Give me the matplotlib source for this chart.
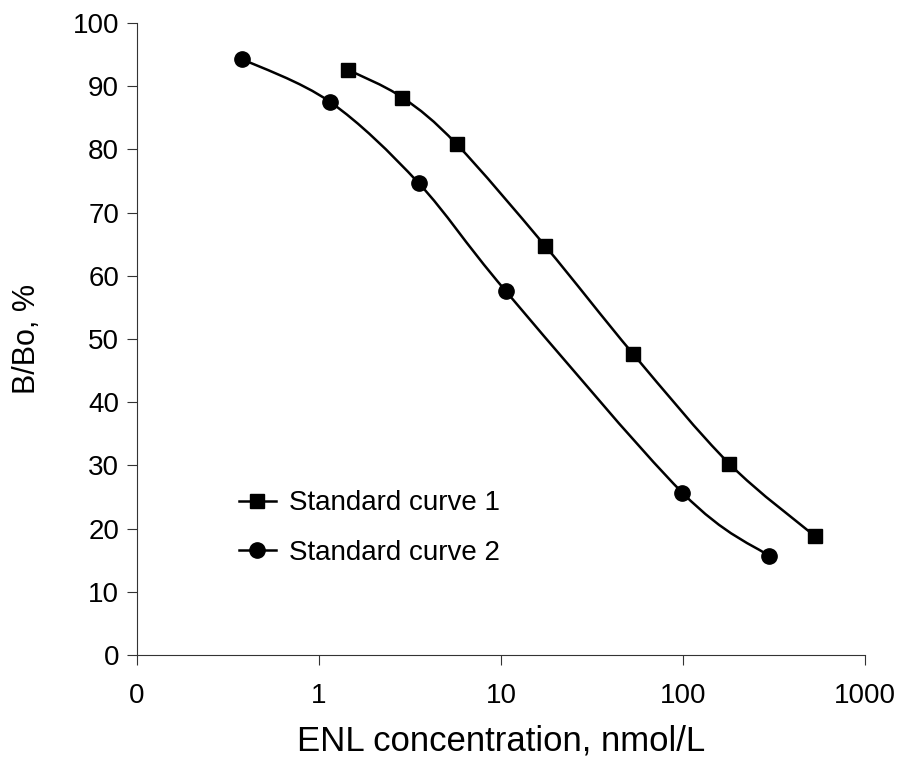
import matplotlib
matplotlib.use('Agg')
import matplotlib.pyplot as plt
import numpy as np
from matplotlib.path import Path
from matplotlib.patches import PathPatch
from matplotlib.lines import Line2D

plt.rcParams['font.family'] = ['Liberation Sans', 'DejaVu Sans']

# data
conc_1 = [1.44, 2.87, 5.71, 17.5, 53.3, 179, 531]
bbo_1 = [92.6, 88.2, 80.8, 64.7, 47.6, 30.3, 18.8]
conc_2 = [0.376, 1.15, 3.54, 10.6, 99, 296]
bbo_2 = [94.3, 87.5, 74.6, 57.6, 25.7, 15.7]

x_ticks = [0.1, 1, 10, 100, 1000]
x_ticklabels = ['0', '1', '10', '100', '1000']
y_ticks = list(range(0, 101, 10))


def smooth_path(x, y):
    # Excel-like smoothed line: cubic Bezier segments built in log-x space
    pts = np.column_stack([np.log10(x), y])
    n = len(pts)
    verts = [pts[0]]
    codes = [Path.MOVETO]
    for i in range(n - 1):
        prev = pts[i - 1] if i > 0 else pts[i]
        nxt = pts[i + 2] if i + 2 < n else pts[i + 1]
        c1 = pts[i] + (pts[i + 1] - prev) / 6
        c2 = pts[i + 1] - (nxt - pts[i]) / 6
        verts += [c1, c2, pts[i + 1]]
        codes += [Path.CURVE4] * 3
    verts = np.array(verts)
    verts[:, 0] = 10 ** verts[:, 0]
    return Path(verts, codes)


fig = plt.figure(figsize=(9.02, 7.57), dpi=100)
ax = fig.add_axes([0.152, 0.1347, 0.807, 0.835])
ax.set_xscale('log')

for x, y, m in [(conc_1, bbo_1, 's'), (conc_2, bbo_2, 'o')]:
    ax.add_patch(PathPatch(smooth_path(x, y), fill=False, edgecolor='black', lw=1.8))
    ax.plot(x, y, linestyle='none', marker=m, color='black', markersize=10.5 if m == 's' else 11)

ax.set_xlim(0.1, 1000)
ax.set_ylim(0, 100)
ax.set_xticks(x_ticks)
ax.set_xticklabels(x_ticklabels)
ax.xaxis.set_minor_locator(matplotlib.ticker.NullLocator())
ax.set_yticks(y_ticks)

for s in ['top', 'right']:
    ax.spines[s].set_visible(False)
for s in ['left', 'bottom']:
    ax.spines[s].set_linewidth(0.8)
    ax.spines[s].set_color('#333333')

ax.tick_params(axis='both', direction='out', length=7, width=0.8, colors='#333333',
               labelsize=20, labelcolor='black')
ax.tick_params(axis='x', pad=13)
ax.tick_params(axis='y', pad=6)

ax.set_xlabel('ENL concentration, nmol/L', fontsize=25, labelpad=11)
ax.set_ylabel('B/Bo, %', fontsize=22, labelpad=22)

handles = [Line2D([], [], color='black', lw=1.8, marker='s', markersize=10.5),
           Line2D([], [], color='black', lw=1.8, marker='o', markersize=11)]
ax.legend(handles, ['Standard curve 1', 'Standard curve 2'], loc='upper left',
          bbox_to_anchor=(0.105, 0.3), frameon=False, fontsize=20,
          handlelength=1.35, handletextpad=0.45, labelspacing=0.85)

plt.savefig('out.png', dpi=100)
plt.close()
